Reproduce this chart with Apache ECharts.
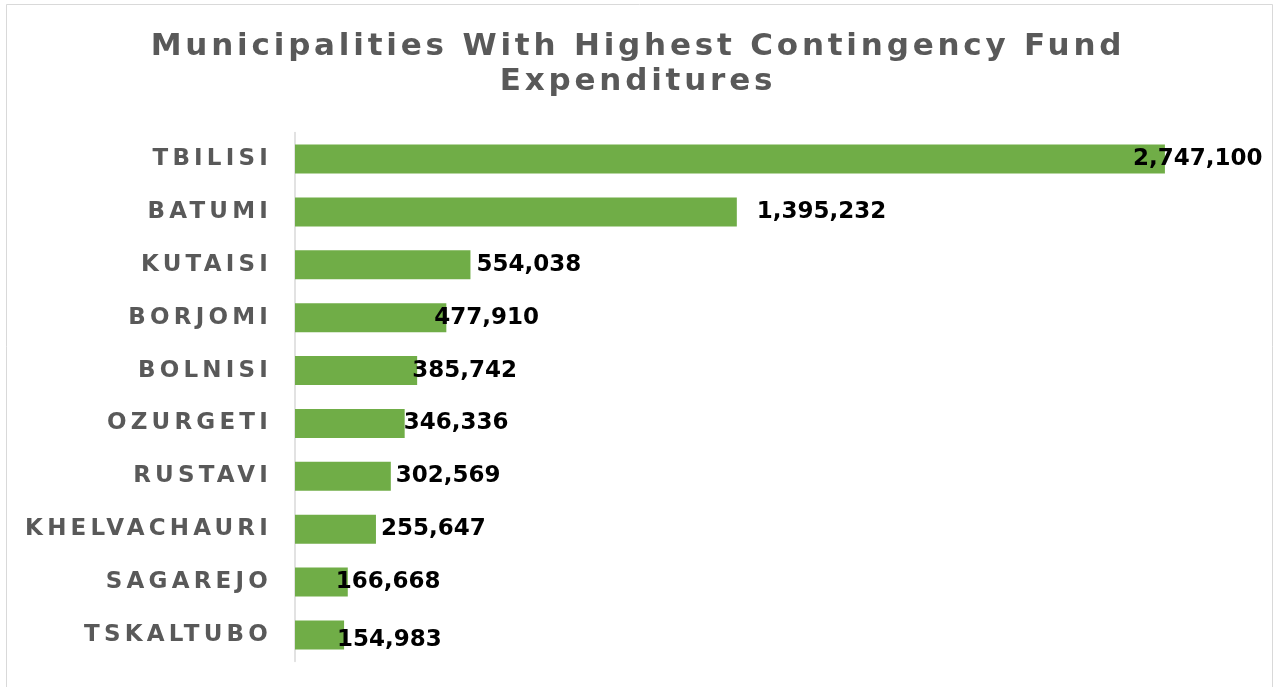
<!DOCTYPE html>
<html>
<head>
<meta charset="utf-8">
<script src="https://cdn.jsdelivr.net/npm/echarts@6/dist/echarts.min.js"></script>
<style>
  html, body { margin: 0; padding: 0; background: #ffffff; }
  #chart { width: 1276px; height: 687px; }
</style>
</head>
<body>
<div id="chart"></div>
<script>
// ---- data ----
const categories = ['TBILISI', 'BATUMI', 'KUTAISI', 'BORJOMI', 'BOLNISI', 'OZURGETI', 'RUSTAVI', 'KHELVACHAURI', 'SAGAREJO', 'TSKALTUBO'];
const expenditures = [2747100, 1395232, 554038, 477910, 385742, 346336, 302569, 255647, 166668, 154983];
const chartTitle = 'Municipalities With Highest Contingency Fund\nExpenditures';

// ---- label nudges (style only, relative to bar end) ----
const labelNudge = [[-32, 0], [20, 0], [6, 0], [-12, 0], [-5, 0], [-1, 0], [5, 0], [5, 0], [-12, 0], [-7, 5]];

// ---- letter spacing support for canvas text (marker family names) ----
(function () {
  const proto = CanvasRenderingContext2D.prototype;
  const origFill = proto.fillText;
  const origStroke = proto.strokeText;
  const origMeasure = proto.measureText;
  function ls(font) {
    if (font.indexOf('LSa') >= 0) return '3.8px';
    if (font.indexOf('LSb') >= 0) return '4.2px';
    return '0px';
  }
  proto.fillText = function () { this.letterSpacing = ls(this.font); return origFill.apply(this, arguments); };
  proto.strokeText = function () { this.letterSpacing = ls(this.font); return origStroke.apply(this, arguments); };
  proto.measureText = function () { this.letterSpacing = ls(this.font); return origMeasure.apply(this, arguments); };
})();

const chart = echarts.init(document.getElementById('chart'));

const seriesData = expenditures.map((v, i) => ({
  value: v,
  label: { offset: labelNudge[i] }
}));

const option = {
  backgroundColor: '#ffffff',
  animation: false,
  graphic: [{
    type: 'rect',
    shape: { x: 6.5, y: 4.5, width: 1266, height: 700 },
    style: { fill: 'none', stroke: '#d9d9d9', lineWidth: 1 },
    silent: true,
    z: -10
  }],
  title: {
    text: chartTitle,
    left: 'center',
    top: 29,
    padding: 0,
    textStyle: {
      fontFamily: "'DejaVu Sans', LSa",
      fontWeight: 'bold',
      fontSize: 31,
      lineHeight: 35,
      color: '#595959'
    }
  },
  grid: {
    left: 295,
    right: 31,
    top: 132.6,
    bottom: 25.6,
    containLabel: false
  },
  xAxis: {
    type: 'value',
    min: 0,
    max: 3000000,
    show: false,
    splitLine: { show: false }
  },
  yAxis: {
    type: 'category',
    data: categories,
    inverse: true,
    axisLine: { show: true, lineStyle: { color: '#d9d9d9', width: 1.5 } },
    axisTick: { show: false },
    axisLabel: {
      margin: 23,
      fontFamily: "'DejaVu Sans', LSb",
      fontWeight: 'bold',
      fontSize: 23,
      color: '#595959'
    }
  },
  series: [{
    type: 'bar',
    data: seriesData,
    barWidth: 29,
    itemStyle: { color: '#70AD47' },
    label: {
      show: true,
      position: 'right',
      distance: 0,
      fontFamily: "'DejaVu Sans'",
      fontWeight: 'bold',
      fontSize: 23,
      color: '#000000',
      formatter: (p) => p.value.toLocaleString('en-US')
    }
  }]
};

chart.setOption(option);
</script>
</body>
</html>
